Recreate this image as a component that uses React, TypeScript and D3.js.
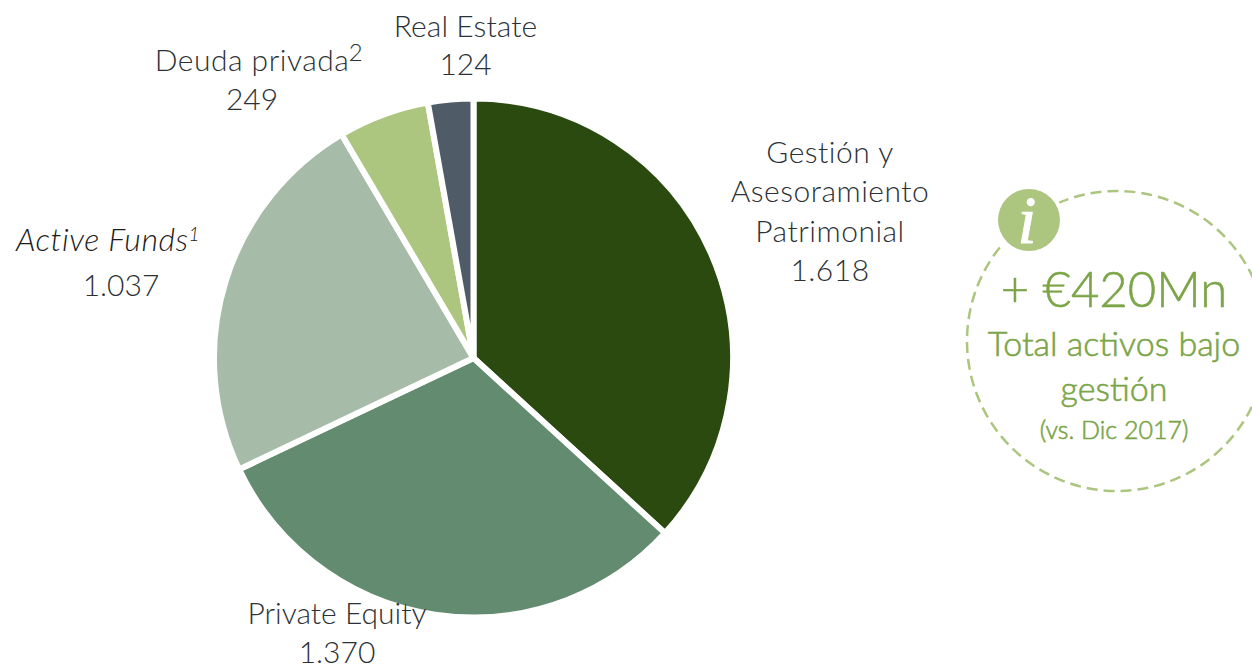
import React from "react";
import * as d3 from "d3";

const categories = ["Gestión y Asesoramiento Patrimonial", "Private Equity", "Active Funds", "Deuda privada", "Real Estate"];
const values = [1618, 1370, 1037, 249, 124];
const sliceColors = ["#2a4a10", "#628b70", "#a6bba8", "#acc57f", "#4f5b66"];
const valueLabels = ["1.618", "1.370", "1.037", "249", "124"];
const calloutLines = ["+ €420Mn", "Total activos bajo", "gestión", "(vs. Dic 2017)"];

const W = 1252, H = 665;
const cx = 473.5, cy = 358, R = 259.5;
const font = "Lato, 'Open Sans', sans-serif";
const ink = "#2c3136";

export default function App() {
  const pie = d3.pie<number>().sort(null).value((d) => d)(values);
  const arc = d3.arc<d3.PieArcDatum<number>>().innerRadius(0).outerRadius(R);
  const lab = { fontFamily: font, fontWeight: 300, fontSize: 30, letterSpacing: 0.5, fill: ink, textAnchor: "middle" as const };
  const call = { fontFamily: font, fontWeight: 300, fill: "#7ba548", stroke: "#7ba548", strokeWidth: 0.6, textAnchor: "middle" as const };
  return (
    <svg width={W} height={H} viewBox={`0 0 ${W} ${H}`} style={{ position: "absolute", left: 0, top: 0, display: "block", background: "#fff" }}>
      <g transform={`translate(${cx},${cy})`}>
        {pie.map((d, i) => (
          <path key={categories[i]} d={arc(d) || ""} fill={sliceColors[i]} stroke="#fff" strokeWidth={6} strokeLinejoin="round" />
        ))}
      </g>

      <text {...lab} x={830} y={163}>Gestión y</text>
      <text {...lab} x={830} y={202}>Asesoramiento</text>
      <text {...lab} x={830} y={242}>Patrimonial</text>
      <text {...lab} x={830} y={281}>{valueLabels[0]}</text>

      <text {...lab} x={337} y={624} letterSpacing={0}>{categories[1]}</text>
      <text {...lab} x={337} y={663} letterSpacing={0}>{valueLabels[1]}</text>

      <text {...lab} x={108} y={251} fill="#1c1c1c" fontStyle="italic" fontSize={32}>{categories[2]}<tspan fontSize={19} dy={-10}>1</tspan></text>
      <text {...lab} x={121} y={296} letterSpacing={0}>{valueLabels[2]}</text>

      <text {...lab} x={252} y={71}>{categories[3]}</text>
      <text {...lab} x={356} y={61} fontSize={24}>2</text>
      <text {...lab} x={252} y={110} letterSpacing={0}>{valueLabels[3]}</text>

      <text {...lab} x={465.5} y={37} letterSpacing={0.1}>{categories[4]}</text>
      <text {...lab} x={465.5} y={75} letterSpacing={0}>{valueLabels[4]}</text>

      <circle cx={1117} cy={341} r={150} fill="none" stroke="#acc57f" strokeWidth={2.5} strokeDasharray="11 6" />
      <circle cx={1029} cy={220} r={35} fill="#fff" />
      <circle cx={1029} cy={220} r={31} fill="#acc57f" />
      <text x={1027} y={243} textAnchor="middle" fontFamily="'Liberation Serif', serif" fontStyle="italic" fontSize={68} fill="#fff" stroke="#fff" strokeWidth={1}>i</text>

      <text {...call} x={1114} y={307} fontSize={49}>{calloutLines[0]}</text>
      <text {...call} x={1114} y={356} fontSize={34}>{calloutLines[1]}</text>
      <text {...call} x={1114} y={401} fontSize={34}>{calloutLines[2]}</text>
      <text {...call} x={1114} y={439} fontSize={25}>{calloutLines[3]}</text>
    </svg>
  );
}
